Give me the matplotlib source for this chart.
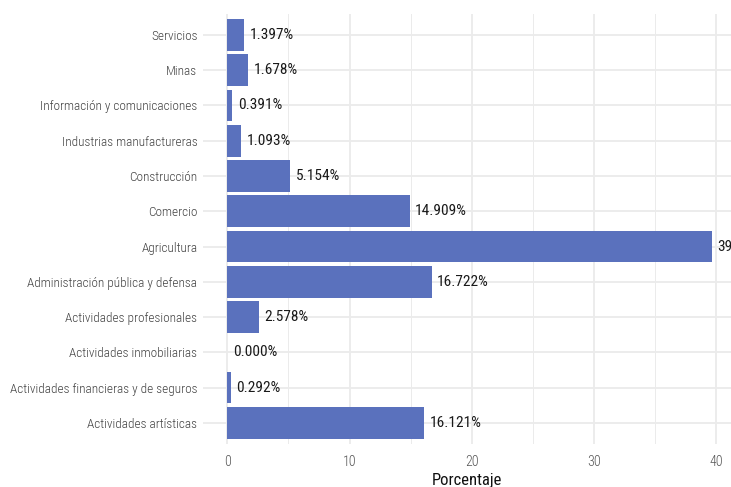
import matplotlib
matplotlib.use("Agg")
import matplotlib.pyplot as plt
from matplotlib.ticker import MultipleLocator

categories = [
    "Servicios",
    "Minas",
    "Información y comunicaciones",
    "Industrias manufactureras",
    "Construcción",
    "Comercio",
    "Agricultura",
    "Administración pública y defensa",
    "Actividades profesionales",
    "Actividades inmobiliarias",
    "Actividades financieras y de seguros",
    "Actividades artísticas",
]
values = [1.397, 1.678, 0.391, 1.093, 5.154, 14.909, 39.665, 16.722, 2.578, 0.000, 0.292, 16.121]
x_ticks = [0, 10, 20, 30, 40]
x_label = "Porcentaje"

fam = ["Roboto Condensed", "Liberation Sans Narrow", "Roboto", "DejaVu Sans"]
plt.rcParams["font.family"] = fam

fig = plt.figure(figsize=(7.31, 4.87), dpi=100)
ax = fig.add_axes([203 / 731, 1 - 444 / 487, 1 - 203 / 731, (444 - 13.8) / 487])

n = len(categories)
ypos = list(range(n))[::-1]
ax.barh(ypos, values, height=0.9, color="#5A71BD", zorder=2)
for y, v in zip(ypos, values):
    ax.annotate(f"{v:.3f}%", (v, y), xytext=(4, 0), textcoords="offset points",
                va="center", ha="left", fontsize=11.1, color="#1a1a1a", zorder=3,
                annotation_clip=False)

ax.set_xlim(-2.0, (731 - 228) / 12.2)
ax.set_ylim(-0.6, n - 1 + 0.6)
ax.set_yticks(ypos)
ax.set_yticklabels(categories, fontsize=9.5, color="#444444", fontweight="light")
ax.set_xticks(x_ticks)
ax.set_xticklabels([str(t) for t in x_ticks], fontsize=10, color="#555555", fontweight="light")
ax.xaxis.set_minor_locator(MultipleLocator(5))
ax.tick_params(axis="both", which="both", length=0)
ax.tick_params(axis="y", pad=4)
ax.tick_params(axis="x", pad=8)
ax.grid(True, which="major", color="#EBEBEB", linewidth=1.3, zorder=0)
ax.grid(True, which="minor", axis="x", color="#EBEBEB", linewidth=0.7, zorder=0)
ax.set_axisbelow(True)
for s in ax.spines.values():
    s.set_visible(False)
ax.set_xlabel(x_label, fontsize=12, color="#111111", labelpad=3)

fig.savefig("out.png", dpi=100, facecolor="white")
